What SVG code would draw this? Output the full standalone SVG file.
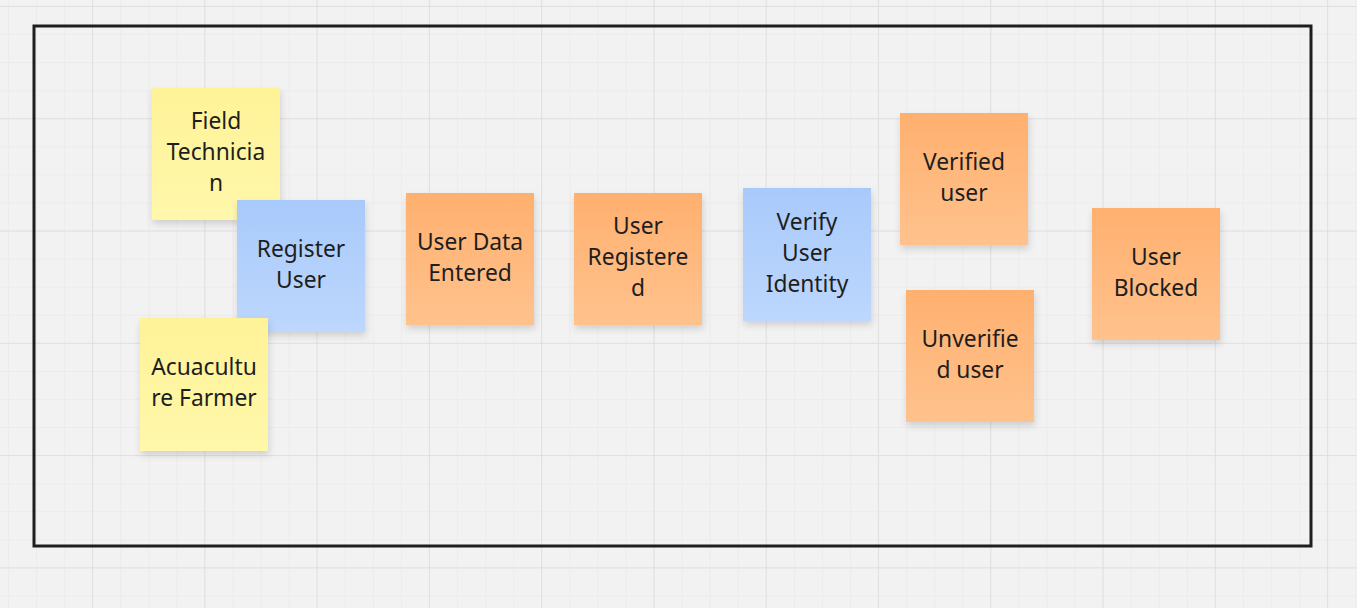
<svg xmlns="http://www.w3.org/2000/svg" width="1357" height="608" viewBox="0 0 1357 608">
<style>
.note text{font-family:"Noto Sans","DejaVu Sans",sans-serif;font-size:22.8px;fill:#1e1e1e;text-anchor:middle}
.frame{fill:none;stroke:#1e1e1e;stroke-width:3}
</style>
<defs>
<pattern id="minor" x="8" y="6" width="28.07" height="28.07" patternUnits="userSpaceOnUse">
<path d="M0 0V28.07M0 0H28.07" fill="none" stroke="#e6e6e6" stroke-width="1"/>
</pattern>
<pattern id="major" x="92" y="6" width="112.28" height="112.28" patternUnits="userSpaceOnUse">
<path d="M0 0V112.28M0 0H112.28" fill="none" stroke="#dcdcdc" stroke-width="1.5"/>
</pattern>
<linearGradient id="gOrange" x1="0" y1="0" x2="0" y2="1">
<stop offset="0" stop-color="#ffb06f"/><stop offset="1" stop-color="#ffc28d"/>
</linearGradient>
<linearGradient id="gBlue" x1="0" y1="0" x2="0" y2="1">
<stop offset="0" stop-color="#a8cafb"/><stop offset="1" stop-color="#bdd7fd"/>
</linearGradient>
<linearGradient id="gYellow" x1="0" y1="0" x2="0" y2="1">
<stop offset="0" stop-color="#fff398"/><stop offset="1" stop-color="#fff7aa"/>
</linearGradient>
<filter id="sh" x="-20%" y="-20%" width="140%" height="150%">
<feDropShadow dx="1" dy="4" stdDeviation="3.5" flood-color="#000" flood-opacity="0.14"/>
</filter>
</defs>
<rect width="1357" height="608" fill="#f2f2f2"/>
<rect width="1357" height="608" fill="url(#minor)"/>
<rect width="1357" height="608" fill="url(#major)"/>
<rect class="frame" x="34" y="26" width="1277" height="520"/>
<g id="connectors"/>
<g id="field-technician" class="note">
<rect x="152" y="88" width="128" height="132" fill="url(#gYellow)" filter="url(#sh)"/>
<text x="216" y="129">Field</text><text x="216" y="160">Technicia</text><text x="216" y="191">n</text>
</g>
<g id="register-user" class="note">
<rect x="237" y="200" width="128" height="132" fill="url(#gBlue)" filter="url(#sh)"/>
<text x="301" y="257">Register</text><text x="301" y="288">User</text>
</g>
<g id="acuaculture-farmer" class="note">
<rect x="140" y="318" width="128" height="133" fill="url(#gYellow)" filter="url(#sh)"/>
<text x="204" y="375">Acuacultu</text><text x="204" y="406">re Farmer</text>
</g>
<g id="user-data-entered" class="note">
<rect x="406" y="193" width="128" height="132" fill="url(#gOrange)" filter="url(#sh)"/>
<text x="470" y="250">User Data</text><text x="470" y="281">Entered</text>
</g>
<g id="user-registered" class="note">
<rect x="574" y="193" width="128" height="132" fill="url(#gOrange)" filter="url(#sh)"/>
<text x="638" y="234">User</text><text x="638" y="265">Registere</text><text x="638" y="296">d</text>
</g>
<g id="verify-user-identity" class="note">
<rect x="743" y="188" width="128" height="133" fill="url(#gBlue)" filter="url(#sh)"/>
<text x="807" y="230">Verify</text><text x="807" y="261">User</text><text x="807" y="292">Identity</text>
</g>
<g id="verified-user" class="note">
<rect x="900" y="113" width="128" height="132" fill="url(#gOrange)" filter="url(#sh)"/>
<text x="964" y="170">Verified</text><text x="964" y="201">user</text>
</g>
<g id="unverified-user" class="note">
<rect x="906" y="290" width="128" height="132" fill="url(#gOrange)" filter="url(#sh)"/>
<text x="970" y="347">Unverifie</text><text x="970" y="378">d user</text>
</g>
<g id="user-blocked" class="note">
<rect x="1092" y="208" width="128" height="132" fill="url(#gOrange)" filter="url(#sh)"/>
<text x="1156" y="265">User</text><text x="1156" y="296">Blocked</text>
</g>
</svg>
